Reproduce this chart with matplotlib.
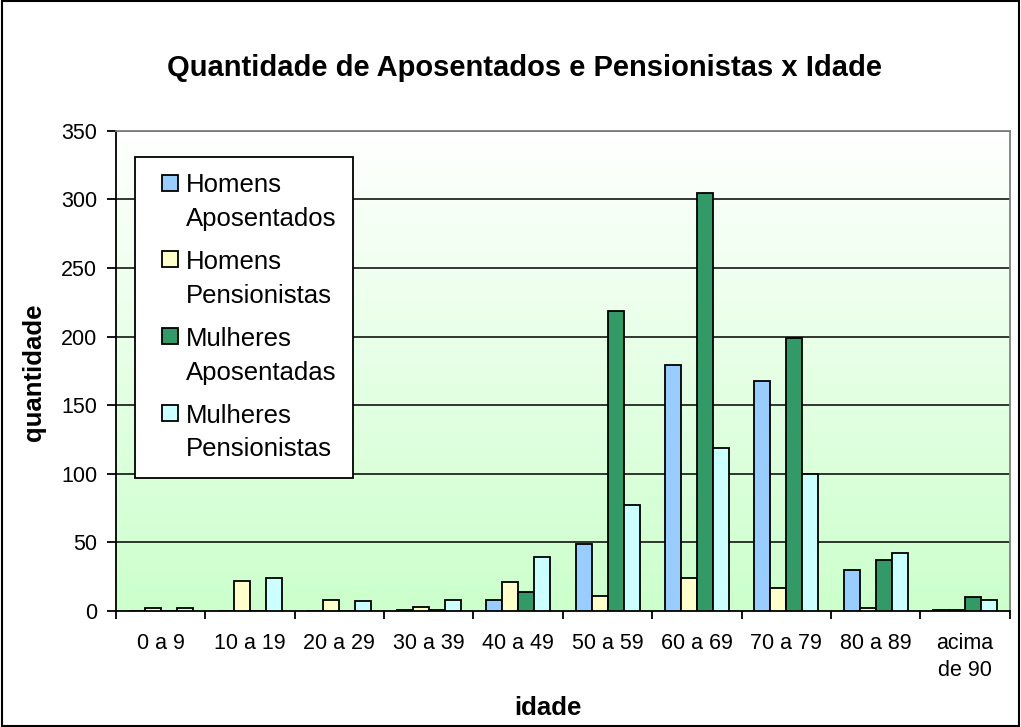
import numpy as np
import matplotlib
matplotlib.use('Agg')
import matplotlib.pyplot as plt
from matplotlib.colors import LinearSegmentedColormap
from matplotlib.legend_handler import HandlerPatch
from matplotlib.patches import Rectangle
from matplotlib.container import BarContainer

plt.rcParams['font.family'] = ['Liberation Sans', 'DejaVu Sans']

# Dados
faixas = ['0 a 9', '10 a 19', '20 a 29', '30 a 39', '40 a 49', '50 a 59',
          '60 a 69', '70 a 79', '80 a 89', 'acima\nde 90']
homens_apos = [0, 0, 0, 1, 8, 49, 179, 168, 30, 1]
homens_pens = [2, 22, 8, 3, 21, 11, 24, 17, 2, 1]
mulheres_apos = [0, 0, 0, 1, 14, 219, 305, 199, 37, 10]
mulheres_pens = [2, 24, 7, 8, 39, 77, 119, 100, 42, 8]

series = [
    ('Homens\nAposentados', homens_apos, '#99CCFF'),
    ('Homens\nPensionistas', homens_pens, '#FFFFCC'),
    ('Mulheres\nAposentadas', mulheres_apos, '#339966'),
    ('Mulheres\nPensionistas', mulheres_pens, '#CCFFFF'),
]

fig = plt.figure(figsize=(10.21, 7.27), dpi=100)
ax = fig.add_axes([0.1136, 0.1596, 0.8754, 0.6604])

# Fundo em degradê (branco -> verde claro)
cmap = LinearSegmentedColormap.from_list('fundo', ['#CCFFCC', '#FFFFFF'])
grad = np.linspace(0, 1, 256).reshape(-1, 1)
ax.imshow(grad, cmap=cmap, aspect='auto', origin='lower',
          extent=[-0.5, len(faixas) - 0.5, 0, 350], zorder=0)

x = np.arange(len(faixas))
w = 0.179
for i, (nome, vals, cor) in enumerate(series):
    ax.bar(x + (i - 1.5) * w, vals, w, color=cor, edgecolor='black',
           linewidth=1.3, label=nome, zorder=3)

ax.set_xlim(-0.5, len(faixas) - 0.5)
ax.set_ylim(0, 350)
ax.set_yticks(range(0, 351, 50))
for y in range(50, 351, 50):
    ax.axhline(y, color='black', linewidth=1.1, zorder=1)

ax.set_xticks(x)
ax.set_xticklabels(faixas, fontsize=15.5, linespacing=1.35, va='top')
ax.tick_params(axis='x', length=0, pad=16)
ax.set_xticks(np.arange(-0.5, len(faixas)), minor=True)
ax.tick_params(axis='x', which='minor', length=6, width=1.3, direction='out')
ax.tick_params(axis='y', labelsize=15.5, length=6.5, width=1.3,
               direction='out', pad=7)

for s in ['top', 'right']:
    ax.spines[s].set_color('#808080')
    ax.spines[s].set_linewidth(1.3)
for s in ['left', 'bottom']:
    ax.spines[s].set_linewidth(1.3)

fig.text(548 / 1021, 1 - 708 / 727, 'idade', fontsize=18.5,
         fontweight='bold', ha='center', va='center')
fig.text(34 / 1021, 1 - 372 / 727, 'quantidade', fontsize=18.5,
         fontweight='bold', ha='center', va='center', rotation=90)
fig.text(524 / 1021, 1 - 68 / 727,
         'Quantidade de Aposentados e Pensionistas x Idade',
         fontsize=21, fontweight='bold', ha='center', va='center')


# marcador da legenda alinhado com a primeira linha do texto
def marcador(legend, orig_handle, xdescent, ydescent, width, height, fontsize):
    return Rectangle((-xdescent + width - height, -ydescent + 0.78 * fontsize),
                     height, height)


def copia_estilo(legend_handle, orig_handle):
    legend_handle.update_from(orig_handle.patches[0])


leg = ax.legend(loc='upper left', bbox_to_anchor=(0.021, 0.946), fontsize=18.5,
                frameon=True, fancybox=False, edgecolor='black',
                handlelength=1.02, handleheight=0.58, handletextpad=0.31,
                labelspacing=0.75, borderpad=0.65, borderaxespad=0,
                handler_map={BarContainer: HandlerPatch(patch_func=marcador,
                                                        update_func=copia_estilo)})
for t in leg.get_texts():
    t.set_linespacing(1.5)
leg.get_frame().set_linewidth(1.3)
leg.get_frame().set_facecolor('white')
leg.get_frame().set_alpha(1)
leg.set_zorder(5)

# Borda da figura
fig.patches.append(plt.Rectangle((0.002, 0.002), 0.996, 0.996, transform=fig.transFigure,
                                 fill=False, edgecolor='black', linewidth=1.5))

fig.savefig('out.png', dpi=100)
